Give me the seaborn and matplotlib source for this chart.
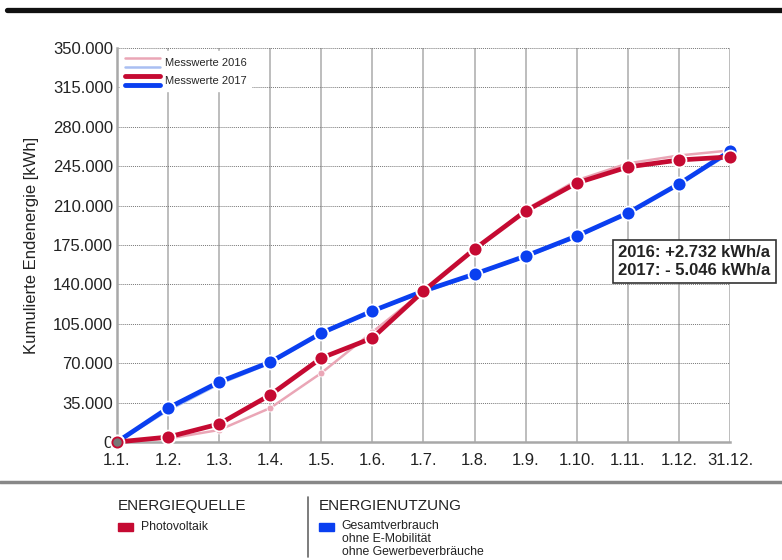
import pandas as pd
import seaborn as sns
import matplotlib.pyplot as plt
import matplotlib.ticker as ticker
from matplotlib.lines import Line2D
from matplotlib.patches import Rectangle
from matplotlib.legend_handler import HandlerBase

months = ['1.1.', '1.2.', '1.3.', '1.4.', '1.5.', '1.6.', '1.7.',
          '1.8.', '1.9.', '1.10.', '1.11.', '1.12.', '31.12.']

# cumulative values in kWh
pv_2016 = [0, 3000, 10700, 30200, 61300, 97700, 134000, 171000, 206500, 232500, 247500, 254500, 259000]
use_2016 = [0, 28000, 51500, 70000, 96000, 116000, 133000, 148500, 164500, 182000, 203000, 229000, 256268]
pv_2017 = [0, 4400, 16000, 41800, 74600, 92400, 134100, 171400, 205200, 230100, 244300, 250500, 253254]
use_2017 = [0, 30200, 53300, 71000, 96800, 116400, 134100, 149200, 165200, 183000, 203400, 229200, 258300]

RED = '#c50a32'
BLUE = '#0a3ff0'
PINK = '#eaa6b6'
LIGHTBLUE = '#a9bff2'

df = pd.DataFrame({'pos': range(len(months)), 'monat': months,
                   'pv_2016': pv_2016, 'use_2016': use_2016,
                   'pv_2017': pv_2017, 'use_2017': use_2017})

sns.set_style('white')
plt.rcParams['font.family'] = ['Liberation Sans', 'DejaVu Sans']

fig = plt.figure(figsize=(7.82, 5.6), dpi=100)
ax = fig.add_axes([0.1496, 0.2107, 0.7839, 0.7036])

# 2016: thin light lines with small markers
for col, c in [('pv_2016', PINK), ('use_2016', LIGHTBLUE)]:
    sns.lineplot(data=df, x='pos', y=col, ax=ax, color=c, linewidth=1.8,
                 marker='o', markersize=5, markeredgecolor='white',
                 markeredgewidth=0.6, clip_on=False, zorder=3)

# 2017: thick lines with big markers
for col, c in [('use_2017', BLUE), ('pv_2017', RED)]:
    sns.lineplot(data=df, x='pos', y=col, ax=ax, color=c, linewidth=3.4,
                 marker='o', markersize=10, markeredgecolor='white',
                 markeredgewidth=1.3, clip_on=False, zorder=4)

# grey start point
ax.plot([0], [0], 'o', color='#777777', markersize=5, clip_on=False, zorder=6)

ax.set_xlim(0, len(months) - 1)
ax.set_ylim(0, 350000)
ax.set_xticks(range(len(months)))
ax.set_xticklabels(months)
ax.set_yticks(range(0, 350001, 35000))
ax.yaxis.set_major_formatter(ticker.FuncFormatter(
    lambda v, p: f'{v:,.0f}'.replace(',', '.')))
ax.tick_params(axis='both', labelsize=12, length=0, colors='#222222')
ax.tick_params(axis='x', pad=8)
ax.tick_params(axis='y', pad=3)
ax.set_xlabel('')
ax.set_ylabel('Kumulierte Endenergie [kWh]', fontsize=12, color='#222222', labelpad=10)

ax.xaxis.grid(True, color='#bdbdbd', linewidth=1.4, linestyle='-')
ax.yaxis.grid(True, color='#777777', linewidth=0.7, linestyle=(0, (1, 1)))
ax.set_axisbelow(True)
for s in ['top', 'right']:
    ax.spines[s].set_visible(False)
for s in ['left', 'bottom']:
    ax.spines[s].set_color('#a8a8a8')
    ax.spines[s].set_linewidth(1.8)


class StackHandler(HandlerBase):
    def __init__(self, colors, lw):
        super().__init__()
        self.colors = colors
        self.lw = lw

    def create_artists(self, legend, orig_handle, xdescent, ydescent,
                       width, height, fontsize, trans):
        arts = []
        for i, c in enumerate(self.colors):
            y = height * (0.85 - 0.7 * i) - ydescent
            arts.append(Line2D([-xdescent, width - xdescent], [y, y], color=c,
                               lw=self.lw, transform=trans))
        return arts


h16 = Line2D([], [])
h17 = Line2D([], [])
leg = ax.legend([h16, h17], ['Messwerte 2016', 'Messwerte 2017'],
                handler_map={h16: StackHandler([PINK, LIGHTBLUE], 1.8),
                             h17: StackHandler([RED, BLUE], 3.5)},
                loc='upper left', bbox_to_anchor=(0.0, 1.0), fontsize=8,
                frameon=True, fancybox=False, framealpha=1, edgecolor='white',
                handlelength=3.2, handleheight=1.4, labelspacing=0.5,
                borderaxespad=0.3, handletextpad=0.4)
leg.set_zorder(10)

ax.text(0.818, 0.457, '2016: +2.732 kWh/a\n2017: - 5.046 kWh/a', transform=ax.transAxes,
        fontsize=12, fontweight='bold', color='#222222', linespacing=1.25,
        va='center', ha='left', zorder=12,
        bbox=dict(boxstyle='square,pad=0.3', facecolor='white', edgecolor='#333333', linewidth=1.2))

# frame decoration
fig.add_artist(Line2D([0.009, 1.0], [0.983, 0.983], color='#111111', linewidth=3.8))
fig.add_artist(Line2D([0.0, 1.0], [0.139, 0.139], color='#888888', linewidth=2.5))
fig.add_artist(Line2D([0.394, 0.394], [0.006, 0.112], color='#666666', linewidth=1.2))

# bottom legend
fig.text(0.151, 0.096, 'ENERGIEQUELLE', fontsize=11, color='#222222', va='center')
fig.add_artist(Rectangle((0.151, 0.052), 0.019, 0.014, color=RED, transform=fig.transFigure))
fig.text(0.180, 0.059, 'Photovoltaik', fontsize=8.8, color='#222222', va='center')
fig.text(0.408, 0.096, 'ENERGIENUTZUNG', fontsize=11, color='#222222', va='center')
fig.add_artist(Rectangle((0.408, 0.052), 0.019, 0.014, color=BLUE, transform=fig.transFigure))
fig.text(0.437, 0.071, 'Gesamtverbrauch\nohne E-Mobilität\nohne Gewerbeverbräuche',
         fontsize=8.8, color='#222222', va='top', linespacing=1.1)

fig.savefig('out.png', dpi=100)
